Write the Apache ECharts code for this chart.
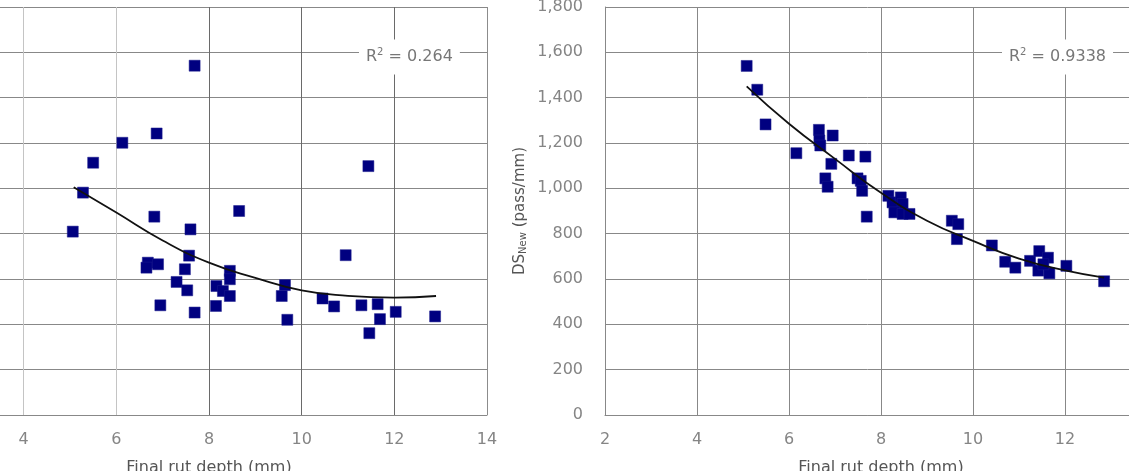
<!DOCTYPE html>
<html lang="en">
<head>
    <meta charset="UTF-8">
    <script src="https://cdn.jsdelivr.net/npm/echarts@6.0.0/dist/echarts.min.js"></script>
    <title>DS vs final rut depth</title>
    <style>
        body { margin: 0; background: #fff; }
    </style>
</head>
<body>
<div id="main" style="width: 1129px;height:471px;"></div>

<script type="text/javascript">
    // left panel (DS old)
    var leftX = [5.06, 5.28, 5.50, 6.13, 6.87, 7.69, 6.82, 7.60, 8.65, 7.57, 6.68, 6.65, 6.90, 7.48,
        7.30, 7.53, 6.95, 7.69, 8.16, 8.30, 8.45, 8.45, 8.45, 8.15, 10.95, 9.64, 9.57, 9.69,
        10.45, 10.70, 11.29, 11.64, 11.69, 12.03, 12.88, 11.46, 11.44];
    var leftY = [809, 981, 1113, 1201, 1242, 1541, 875, 819, 900, 703, 672, 650, 665, 643,
        587, 550, 484, 452, 569, 547, 636, 599, 525, 481, 705, 573, 525, 420,
        514, 479, 484, 489, 423, 455, 435, 361, 1098];
    var leftTrendX = [5.08, 6, 7, 8, 9, 10, 11, 12, 12.9];
    var leftTrendY = [1005, 893, 770, 672, 605, 550, 526, 518, 525];

    // right panel (DS new)
    var rightX = [5.08, 5.31, 5.49, 6.16, 6.65, 6.66, 6.68, 6.95, 6.92, 6.79, 6.84, 7.30, 7.66,
        7.49, 7.56, 7.59, 7.69, 8.16, 8.25, 8.43, 8.47, 8.29, 8.47, 8.62, 9.54, 9.68, 9.65,
        10.41, 10.70, 10.92, 11.24, 11.44, 11.42, 11.63, 11.66, 11.53, 12.03, 12.85];
    var rightY = [1540, 1435, 1282, 1155, 1258, 1211, 1189, 1233, 1108, 1044, 1007, 1145, 1140,
        1044, 1033, 989, 875, 967, 938, 960, 931, 894, 887, 887, 857, 842, 776,
        748, 676, 650, 680, 723, 637, 694, 625, 665, 658, 590];
    var rightTrendX = [5.08, 6, 7, 8, 9, 10, 11, 12, 12.85];
    var rightTrendY = [1450, 1285, 1130, 980, 857, 768, 690, 638, 606];

    var xTicks = {min: 2, max: 14, interval: 2};
    var yTicks = {min: 0, max: 1800, interval: 200};
    var r2Left = 'R{s|2} = 0.264';
    var r2Right = 'R{s|2} = 0.9338';

    function pairs(xs, ys) {
        var out = [];
        for (var i = 0; i < xs.length; i++) {
            out.push([xs[i], ys[i]]);
        }
        return out;
    }

    var gridColor = '#888';
    var labelColor = '#858585';
    var font = 'DejaVu Sans';

    function xAxis(idx, lineColors) {
        return {
            gridIndex: idx,
            type: 'value',
            min: xTicks.min,
            max: xTicks.max,
            interval: xTicks.interval,
            name: 'Final rut depth (mm)',
            nameLocation: 'middle',
            nameGap: 45,
            nameTextStyle: {color: '#555', fontFamily: font, fontSize: 16},
            axisLine: {show: true, lineStyle: {color: gridColor}},
            axisTick: {show: false},
            axisLabel: {color: labelColor, fontFamily: font, fontSize: 16, margin: 17},
            splitLine: {show: true, lineStyle: {color: lineColors, width: 1}}
        };
    }

    function yAxis(idx) {
        return {
            gridIndex: idx,
            type: 'value',
            min: yTicks.min,
            max: yTicks.max,
            interval: yTicks.interval,
            name: 'DS{sub|New} (pass/mm)',
            nameLocation: 'middle',
            nameGap: 77,
            nameMoveOverlap: false,
            nameTextStyle: {
                color: '#555', fontFamily: font, fontSize: 15,
                rich: {sub: {fontSize: 10, fontFamily: font, color: '#555', padding: [6, 0, 0, 0]}}
            },
            axisLine: {show: true, lineStyle: {color: gridColor}},
            axisTick: {show: false},
            axisLabel: {
                color: labelColor, fontFamily: font, fontSize: 16, margin: 22,
                formatter: function (v) { return v.toLocaleString('en-US'); }
            },
            splitLine: {show: true, lineStyle: {color: gridColor, width: 1}}
        };
    }

    function r2Text(txt, x) {
        return {
            type: 'text',
            x: x,
            y: 57,
            z: 100,
            style: {
                text: txt,
                fill: '#777',
                font: '16px "DejaVu Sans"',
                verticalAlign: 'middle',
                backgroundColor: '#fff',
                padding: [8, 7],
                rich: {s: {fontSize: 10, fontFamily: font, fill: '#777', padding: [0, 0, 9, 0]}}
            }
        };
    }

    var myChart = echarts.init(document.getElementById('main'));
    var option = {
        animation: false,
        grid: [
            {left: -69, top: 7, width: 556, height: 408, containLabel: false, outerBoundsMode: 'none'},
            {left: 605, top: 7, width: 552, height: 408, containLabel: false, outerBoundsMode: 'none'}
        ],
        xAxis: [
            xAxis(0, ['#888', '#c4c4c4', '#c4c4c4', '#6a6a6a', '#6a6a6a', '#6a6a6a', '#8c8c8c']),
            xAxis(1, [gridColor])
        ],
        yAxis: [yAxis(0), yAxis(1)],
        graphic: [r2Text(r2Left, 359), r2Text(r2Right, 1002)],
        series: [
            {
                type: 'scatter', xAxisIndex: 0, yAxisIndex: 0,
                symbol: 'rect', symbolSize: 11,
                itemStyle: {color: '#000080', borderColor: '#1a1a8c', borderWidth: 0.5, opacity: 1},
                data: pairs(leftX, leftY)
            },
            {
                type: 'line', xAxisIndex: 0, yAxisIndex: 0, smooth: true, showSymbol: false, z: 5,
                lineStyle: {color: '#111', width: 1.8},
                data: pairs(leftTrendX, leftTrendY)
            },
            {
                type: 'scatter', xAxisIndex: 1, yAxisIndex: 1,
                symbol: 'rect', symbolSize: 11,
                itemStyle: {color: '#000080', borderColor: '#1a1a8c', borderWidth: 0.5, opacity: 1},
                data: pairs(rightX, rightY)
            },
            {
                type: 'line', xAxisIndex: 1, yAxisIndex: 1, smooth: true, showSymbol: false, z: 5,
                lineStyle: {color: '#111', width: 1.8},
                data: pairs(rightTrendX, rightTrendY)
            }
        ]
    };
    myChart.setOption(option);
</script>
</body>
</html>
